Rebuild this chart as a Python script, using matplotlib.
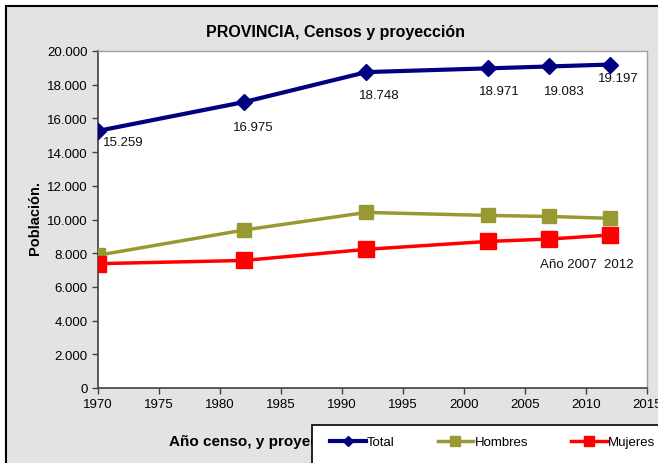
import matplotlib.pyplot as plt
from matplotlib.patches import Rectangle
from matplotlib.ticker import FuncFormatter

plt.rcParams['font.family'] = ['Liberation Sans', 'DejaVu Sans']

# Data
years = [1970, 1982, 1992, 2002, 2007, 2012]
total = [15259, 16975, 18748, 18971, 19083, 19197]
hombres = [7880, 9380, 10420, 10240, 10180, 10070]
mujeres = [7379, 7570, 8230, 8700, 8840, 9080]
total_labels = ["15.259", "16.975", "18.748", "18.971", "19.083", "19.197"]
label_offsets = [(18, -8), (6.5, -18), (9.5, -16.5), (8, -16.5), (11, -18), (6, -9.5)]

bg = '#e3e3e3'

fig = plt.figure(figsize=(6.58, 4.64), dpi=100)
fig.patch.set_facecolor('white')

# grey chart area with black border (runs off right and bottom)
fig.patches.append(Rectangle((6 / 658, -0.1), 1.0, 1 - 7 / 464 + 0.1,
                             transform=fig.transFigure, facecolor=bg,
                             edgecolor='black', lw=1.5, zorder=-1))

ax = fig.add_axes([98 / 658, 1 - 389 / 464, 549 / 658, 337 / 464])
ax.set_facecolor('white')

ax.plot(years, total, color='#000080', lw=3, marker='D', ms=8,
        label='Total', zorder=4)
ax.plot(years, hombres, color='#999933', lw=2.5, marker='s', ms=9.5,
        label='Hombres', zorder=3)
ax.plot(years, mujeres, color='#ff0000', lw=2.5, marker='s', ms=11,
        label='Mujeres', zorder=3)

for x, y, s, off in zip(years, total, total_labels, label_offsets):
    ax.annotate(s, (x, y), xytext=off, textcoords='offset points',
                ha='center', va='center', fontsize=9.5, color='#111111')

ax.text(2010.1, 7380, 'Año 2007  2012', ha='center', va='center',
        fontsize=9.5, color='#111111')

ax.set_xlim(1970, 2015)
ax.set_ylim(0, 20000)
ax.set_xticks(range(1970, 2016, 5))
ax.set_yticks(range(0, 20001, 2000))
ax.yaxis.set_major_formatter(FuncFormatter(lambda v, p: f"{v:,.0f}".replace(",", ".")))
ax.tick_params(labelsize=9.5, length=4, width=1, color='#404040', direction='out')

for side in ['left', 'bottom']:
    ax.spines[side].set_color('#404040')
    ax.spines[side].set_linewidth(1.2)
for side in ['top', 'right']:
    ax.spines[side].set_color('#a0a0a0')
    ax.spines[side].set_linewidth(1)

fig.text(335 / 658, 1 - 33 / 464, 'PROVINCIA, Censos y proyección',
         ha='center', va='center', fontsize=11.5, fontweight='bold')
fig.text(35 / 658, 1 - 218 / 464, 'Población.', rotation=90,
         ha='center', va='center', fontsize=10.5, fontweight='bold')
fig.text(169 / 658, 1 - 442 / 464, 'Año censo, y proyección.',
         ha='left', va='center', fontsize=11, fontweight='bold', zorder=1)

# legend box, cut off by the figure edge
fig.patches.append(Rectangle((312 / 658, -0.1), 0.6, (464 - 426) / 464 + 0.1,
                             transform=fig.transFigure, facecolor='white',
                             edgecolor='black', lw=1.2, zorder=2))
handles, labels = ax.get_legend_handles_labels()
leg = fig.legend(handles, labels, loc='center left', ncol=3,
                 bbox_to_anchor=(330 / 658, 1 - 443 / 464), frameon=False,
                 fontsize=9.5, handlelength=2.7, handletextpad=0.1,
                 columnspacing=3.25, markerscale=0.7, borderaxespad=0,
                 borderpad=0)
leg.set_zorder(3)

fig.savefig('out.png', dpi=100, facecolor=fig.get_facecolor())
